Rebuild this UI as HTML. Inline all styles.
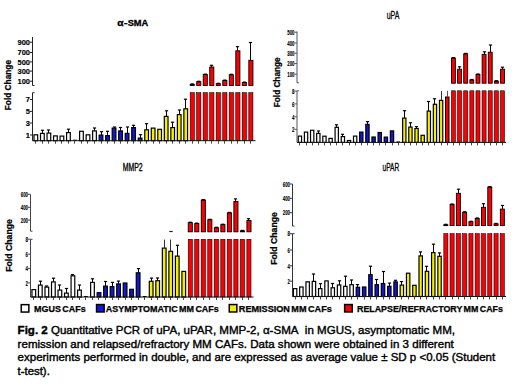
<!DOCTYPE html>
<html><head><meta charset="utf-8"><title>Fig. 2</title>
<style>
html,body{margin:0;padding:0;background:#fff;}
body{width:520px;height:390px;overflow:hidden;}
svg{display:block;font-family:"Liberation Sans", sans-serif;}
</style></head>
<body>
<svg width="520" height="390" viewBox="0 0 520 390" shape-rendering="auto">
<rect x="0" y="0" width="520" height="390" fill="#fff"/>
<rect x="190.18" y="92.7" width="62.74" height="48" fill="#d4dae2"/>
<rect x="34" y="134.8" width="3.7" height="5.9" fill="#ffffff" stroke="#000" stroke-width="1.2"/>
<rect x="40.52" y="133.4" width="3.7" height="7.3" fill="#ffffff" stroke="#000" stroke-width="1.2"/>
<line x1="42.5" y1="130.3" x2="42.5" y2="133.3" stroke="#000" stroke-width="1"/>
<line x1="40.9" y1="130.3" x2="44.1" y2="130.3" stroke="#000" stroke-width="1.2"/>
<rect x="47.03" y="133.1" width="3.7" height="7.6" fill="#ffffff" stroke="#000" stroke-width="1.2"/>
<line x1="48.5" y1="130" x2="48.5" y2="133" stroke="#000" stroke-width="1"/>
<line x1="46.9" y1="130" x2="50.1" y2="130" stroke="#000" stroke-width="1.2"/>
<rect x="53.55" y="135.9" width="3.7" height="4.8" fill="#ffffff" stroke="#000" stroke-width="1.2"/>
<rect x="60.06" y="136.1" width="3.7" height="4.6" fill="#ffffff" stroke="#000" stroke-width="1.2"/>
<rect x="66.58" y="132.6" width="3.7" height="8.1" fill="#ffffff" stroke="#000" stroke-width="1.2"/>
<line x1="68.5" y1="129.2" x2="68.5" y2="132.5" stroke="#000" stroke-width="1"/>
<line x1="66.9" y1="129.2" x2="70.1" y2="129.2" stroke="#000" stroke-width="1.2"/>
<line x1="73" y1="140.2" x2="76.9" y2="140.2" stroke="#000" stroke-width="1"/>
<rect x="79.61" y="131.3" width="3.7" height="9.4" fill="#ffffff" stroke="#000" stroke-width="1.2"/>
<rect x="86.13" y="134.8" width="3.7" height="5.9" fill="#ffffff" stroke="#000" stroke-width="1.2"/>
<rect x="92.64" y="130.9" width="3.7" height="9.8" fill="#ffffff" stroke="#000" stroke-width="1.2"/>
<line x1="94.5" y1="128" x2="94.5" y2="130.8" stroke="#000" stroke-width="1"/>
<line x1="92.9" y1="128" x2="96.1" y2="128" stroke="#000" stroke-width="1.2"/>
<rect x="99.16" y="135.1" width="3.7" height="5.6" fill="#1216d8" stroke="#000" stroke-width="1.2"/>
<line x1="101.5" y1="131.7" x2="101.5" y2="135" stroke="#000" stroke-width="1"/>
<line x1="99.9" y1="131.7" x2="103.1" y2="131.7" stroke="#000" stroke-width="1.2"/>
<rect x="105.68" y="135.6" width="3.7" height="5.1" fill="#1216d8" stroke="#000" stroke-width="1.2"/>
<line x1="107.5" y1="131.3" x2="107.5" y2="135.5" stroke="#000" stroke-width="1"/>
<line x1="105.9" y1="131.3" x2="109.1" y2="131.3" stroke="#000" stroke-width="1.2"/>
<rect x="112.19" y="128.1" width="3.7" height="12.6" fill="#1216d8" stroke="#000" stroke-width="1.2"/>
<line x1="114.5" y1="127" x2="114.5" y2="128" stroke="#000" stroke-width="1"/>
<line x1="112.9" y1="127" x2="116.1" y2="127" stroke="#000" stroke-width="1.2"/>
<rect x="118.71" y="130.9" width="3.7" height="9.8" fill="#1216d8" stroke="#000" stroke-width="1.2"/>
<line x1="120.5" y1="127.5" x2="120.5" y2="130.8" stroke="#000" stroke-width="1"/>
<line x1="118.9" y1="127.5" x2="122.1" y2="127.5" stroke="#000" stroke-width="1.2"/>
<rect x="125.22" y="133.4" width="3.7" height="7.3" fill="#1216d8" stroke="#000" stroke-width="1.2"/>
<line x1="127.5" y1="127" x2="127.5" y2="133.3" stroke="#000" stroke-width="1"/>
<line x1="125.9" y1="127" x2="129.1" y2="127" stroke="#000" stroke-width="1.2"/>
<rect x="131.74" y="127.6" width="3.7" height="13.1" fill="#1216d8" stroke="#000" stroke-width="1.2"/>
<line x1="133.5" y1="125.3" x2="133.5" y2="127.5" stroke="#000" stroke-width="1"/>
<line x1="131.9" y1="125.3" x2="135.1" y2="125.3" stroke="#000" stroke-width="1.2"/>
<rect x="138.26" y="138.1" width="3.7" height="2.6" fill="#1216d8" stroke="#000" stroke-width="1.2"/>
<line x1="140.5" y1="134.7" x2="140.5" y2="138" stroke="#000" stroke-width="1"/>
<line x1="138.9" y1="134.7" x2="142.1" y2="134.7" stroke="#000" stroke-width="1.2"/>
<rect x="144.77" y="129.8" width="3.7" height="10.9" fill="#f6f000" stroke="#000" stroke-width="1.2"/>
<line x1="146.5" y1="123.7" x2="146.5" y2="129.7" stroke="#000" stroke-width="1"/>
<line x1="144.9" y1="123.7" x2="148.1" y2="123.7" stroke="#000" stroke-width="1.2"/>
<rect x="151.29" y="128.1" width="3.7" height="12.6" fill="#f6f000" stroke="#000" stroke-width="1.2"/>
<rect x="157.8" y="129.3" width="3.7" height="11.4" fill="#f6f000" stroke="#000" stroke-width="1.2"/>
<rect x="164.32" y="116.4" width="3.7" height="24.3" fill="#f6f000" stroke="#000" stroke-width="1.2"/>
<line x1="166.5" y1="110.8" x2="166.5" y2="116.3" stroke="#000" stroke-width="1"/>
<line x1="164.9" y1="110.8" x2="168.1" y2="110.8" stroke="#000" stroke-width="1.2"/>
<rect x="170.84" y="127.6" width="3.7" height="13.1" fill="#f6f000" stroke="#000" stroke-width="1.2"/>
<line x1="172.5" y1="122.2" x2="172.5" y2="127.5" stroke="#000" stroke-width="1"/>
<line x1="170.9" y1="122.2" x2="174.1" y2="122.2" stroke="#000" stroke-width="1.2"/>
<rect x="177.35" y="114.6" width="3.7" height="26.1" fill="#f6f000" stroke="#000" stroke-width="1.2"/>
<line x1="179.5" y1="110" x2="179.5" y2="114.5" stroke="#000" stroke-width="1"/>
<line x1="177.9" y1="110" x2="181.1" y2="110" stroke="#000" stroke-width="1.2"/>
<rect x="183.87" y="108.8" width="3.7" height="31.9" fill="#f6f000" stroke="#000" stroke-width="1.2"/>
<line x1="185.5" y1="99.2" x2="185.5" y2="108.7" stroke="#000" stroke-width="1"/>
<line x1="183.9" y1="99.2" x2="187.1" y2="99.2" stroke="#000" stroke-width="1.2"/>
<rect x="190.18" y="92.7" width="4.1" height="48" fill="#fa0000" stroke="#000" stroke-width="0.55"/>
<rect x="190.18" y="84.3" width="4.1" height="1.2" fill="#fa0000" stroke="#000" stroke-width="0.9"/>
<line x1="190.73" y1="84" x2="193.73" y2="84" stroke="#000" stroke-width="1.4"/>
<rect x="196.7" y="92.7" width="4.1" height="48" fill="#fa0000" stroke="#000" stroke-width="0.55"/>
<rect x="196.7" y="81.7" width="4.1" height="3.8" fill="#fa0000" stroke="#000" stroke-width="0.9"/>
<line x1="197.25" y1="81.4" x2="200.25" y2="81.4" stroke="#000" stroke-width="1.4"/>
<rect x="203.22" y="92.7" width="4.1" height="48" fill="#fa0000" stroke="#000" stroke-width="0.55"/>
<rect x="203.22" y="74.5" width="4.1" height="11" fill="#fa0000" stroke="#000" stroke-width="0.9"/>
<line x1="203.77" y1="74.2" x2="206.77" y2="74.2" stroke="#000" stroke-width="1.4"/>
<rect x="209.73" y="92.7" width="4.1" height="48" fill="#fa0000" stroke="#000" stroke-width="0.55"/>
<rect x="209.73" y="67" width="4.1" height="18.5" fill="#fa0000" stroke="#000" stroke-width="0.9"/>
<line x1="211.5" y1="65.3" x2="211.5" y2="67" stroke="#000" stroke-width="1"/>
<line x1="209.9" y1="65.3" x2="213.1" y2="65.3" stroke="#000" stroke-width="1.2"/>
<rect x="216.25" y="92.7" width="4.1" height="48" fill="#fa0000" stroke="#000" stroke-width="0.55"/>
<rect x="216.25" y="83.7" width="4.1" height="1.8" fill="#fa0000" stroke="#000" stroke-width="0.9"/>
<line x1="216.8" y1="83.4" x2="219.8" y2="83.4" stroke="#000" stroke-width="1.4"/>
<rect x="222.76" y="92.7" width="4.1" height="48" fill="#fa0000" stroke="#000" stroke-width="0.55"/>
<rect x="222.76" y="80.5" width="4.1" height="5" fill="#fa0000" stroke="#000" stroke-width="0.9"/>
<line x1="223.31" y1="80.2" x2="226.31" y2="80.2" stroke="#000" stroke-width="1.4"/>
<rect x="229.28" y="92.7" width="4.1" height="48" fill="#fa0000" stroke="#000" stroke-width="0.55"/>
<rect x="229.28" y="74.7" width="4.1" height="10.8" fill="#fa0000" stroke="#000" stroke-width="0.9"/>
<line x1="229.83" y1="74.4" x2="232.83" y2="74.4" stroke="#000" stroke-width="1.4"/>
<rect x="235.8" y="92.7" width="4.1" height="48" fill="#fa0000" stroke="#000" stroke-width="0.55"/>
<rect x="235.8" y="50.8" width="4.1" height="34.7" fill="#fa0000" stroke="#000" stroke-width="0.9"/>
<line x1="237.5" y1="46.7" x2="237.5" y2="50.8" stroke="#000" stroke-width="1"/>
<line x1="235.9" y1="46.7" x2="239.1" y2="46.7" stroke="#000" stroke-width="1.2"/>
<rect x="242.31" y="92.7" width="4.1" height="48" fill="#fa0000" stroke="#000" stroke-width="0.55"/>
<rect x="242.31" y="82.5" width="4.1" height="3" fill="#fa0000" stroke="#000" stroke-width="0.9"/>
<line x1="242.86" y1="82.2" x2="245.86" y2="82.2" stroke="#000" stroke-width="1.4"/>
<rect x="248.83" y="92.7" width="4.1" height="48" fill="#fa0000" stroke="#000" stroke-width="0.55"/>
<rect x="248.83" y="60.3" width="4.1" height="25.2" fill="#fa0000" stroke="#000" stroke-width="0.9"/>
<line x1="250.5" y1="42.5" x2="250.5" y2="60.3" stroke="#000" stroke-width="1"/>
<line x1="248.9" y1="42.5" x2="252.1" y2="42.5" stroke="#000" stroke-width="1.2"/>
<line x1="32.5" y1="37" x2="32.5" y2="85.5" stroke="#222" stroke-width="1"/>
<line x1="32.5" y1="85.5" x2="34.5" y2="85.5" stroke="#222" stroke-width="1"/>
<line x1="32.5" y1="92.7" x2="32.5" y2="140.7" stroke="#222" stroke-width="1"/>
<line x1="32.5" y1="92.7" x2="34.5" y2="92.7" stroke="#222" stroke-width="1"/>
<line x1="32.5" y1="140.7" x2="255.5" y2="140.7" stroke="#111" stroke-width="1"/>
<line x1="35.5" y1="140.7" x2="35.5" y2="143.7" stroke="#333" stroke-width="0.9"/>
<line x1="42.5" y1="140.7" x2="42.5" y2="143.7" stroke="#333" stroke-width="0.9"/>
<line x1="48.5" y1="140.7" x2="48.5" y2="143.7" stroke="#333" stroke-width="0.9"/>
<line x1="55.5" y1="140.7" x2="55.5" y2="143.7" stroke="#333" stroke-width="0.9"/>
<line x1="61.5" y1="140.7" x2="61.5" y2="143.7" stroke="#333" stroke-width="0.9"/>
<line x1="68.5" y1="140.7" x2="68.5" y2="143.7" stroke="#333" stroke-width="0.9"/>
<line x1="74.5" y1="140.7" x2="74.5" y2="143.7" stroke="#333" stroke-width="0.9"/>
<line x1="81.5" y1="140.7" x2="81.5" y2="143.7" stroke="#333" stroke-width="0.9"/>
<line x1="87.5" y1="140.7" x2="87.5" y2="143.7" stroke="#333" stroke-width="0.9"/>
<line x1="94.5" y1="140.7" x2="94.5" y2="143.7" stroke="#333" stroke-width="0.9"/>
<line x1="101.5" y1="140.7" x2="101.5" y2="143.7" stroke="#333" stroke-width="0.9"/>
<line x1="107.5" y1="140.7" x2="107.5" y2="143.7" stroke="#333" stroke-width="0.9"/>
<line x1="114.5" y1="140.7" x2="114.5" y2="143.7" stroke="#333" stroke-width="0.9"/>
<line x1="120.5" y1="140.7" x2="120.5" y2="143.7" stroke="#333" stroke-width="0.9"/>
<line x1="127.5" y1="140.7" x2="127.5" y2="143.7" stroke="#333" stroke-width="0.9"/>
<line x1="133.5" y1="140.7" x2="133.5" y2="143.7" stroke="#333" stroke-width="0.9"/>
<line x1="140.5" y1="140.7" x2="140.5" y2="143.7" stroke="#333" stroke-width="0.9"/>
<line x1="146.5" y1="140.7" x2="146.5" y2="143.7" stroke="#333" stroke-width="0.9"/>
<line x1="153.5" y1="140.7" x2="153.5" y2="143.7" stroke="#333" stroke-width="0.9"/>
<line x1="159.5" y1="140.7" x2="159.5" y2="143.7" stroke="#333" stroke-width="0.9"/>
<line x1="166.5" y1="140.7" x2="166.5" y2="143.7" stroke="#333" stroke-width="0.9"/>
<line x1="172.5" y1="140.7" x2="172.5" y2="143.7" stroke="#333" stroke-width="0.9"/>
<line x1="179.5" y1="140.7" x2="179.5" y2="143.7" stroke="#333" stroke-width="0.9"/>
<line x1="185.5" y1="140.7" x2="185.5" y2="143.7" stroke="#333" stroke-width="0.9"/>
<line x1="192.5" y1="140.7" x2="192.5" y2="143.7" stroke="#333" stroke-width="0.9"/>
<line x1="198.5" y1="140.7" x2="198.5" y2="143.7" stroke="#333" stroke-width="0.9"/>
<line x1="205.5" y1="140.7" x2="205.5" y2="143.7" stroke="#333" stroke-width="0.9"/>
<line x1="211.5" y1="140.7" x2="211.5" y2="143.7" stroke="#333" stroke-width="0.9"/>
<line x1="218.5" y1="140.7" x2="218.5" y2="143.7" stroke="#333" stroke-width="0.9"/>
<line x1="224.5" y1="140.7" x2="224.5" y2="143.7" stroke="#333" stroke-width="0.9"/>
<line x1="231.5" y1="140.7" x2="231.5" y2="143.7" stroke="#333" stroke-width="0.9"/>
<line x1="237.5" y1="140.7" x2="237.5" y2="143.7" stroke="#333" stroke-width="0.9"/>
<line x1="244.5" y1="140.7" x2="244.5" y2="143.7" stroke="#333" stroke-width="0.9"/>
<line x1="250.5" y1="140.7" x2="250.5" y2="143.7" stroke="#333" stroke-width="0.9"/>
<line x1="30" y1="42.2" x2="32.5" y2="42.2" stroke="#222" stroke-width="1"/>
<text x="30" y="44.9" font-size="7.5" font-weight="bold" text-anchor="end" fill="#000" stroke="#000" stroke-width="0.15">900</text>
<line x1="30" y1="52.5" x2="32.5" y2="52.5" stroke="#222" stroke-width="1"/>
<text x="30" y="55.2" font-size="7.5" font-weight="bold" text-anchor="end" fill="#000" stroke="#000" stroke-width="0.15">700</text>
<line x1="30" y1="61.9" x2="32.5" y2="61.9" stroke="#222" stroke-width="1"/>
<text x="30" y="64.6" font-size="7.5" font-weight="bold" text-anchor="end" fill="#000" stroke="#000" stroke-width="0.15">500</text>
<line x1="30" y1="71.1" x2="32.5" y2="71.1" stroke="#222" stroke-width="1"/>
<text x="30" y="73.8" font-size="7.5" font-weight="bold" text-anchor="end" fill="#000" stroke="#000" stroke-width="0.15">300</text>
<line x1="30" y1="81.2" x2="32.5" y2="81.2" stroke="#222" stroke-width="1"/>
<text x="30" y="83.9" font-size="7.5" font-weight="bold" text-anchor="end" fill="#000" stroke="#000" stroke-width="0.15">100</text>
<line x1="30" y1="99.5" x2="32.5" y2="99.5" stroke="#222" stroke-width="1"/>
<text x="30" y="102.2" font-size="7.5" font-weight="bold" text-anchor="end" fill="#000" stroke="#000" stroke-width="0.15">7</text>
<line x1="30" y1="111.4" x2="32.5" y2="111.4" stroke="#222" stroke-width="1"/>
<text x="30" y="114.1" font-size="7.5" font-weight="bold" text-anchor="end" fill="#000" stroke="#000" stroke-width="0.15">5</text>
<line x1="30" y1="123" x2="32.5" y2="123" stroke="#222" stroke-width="1"/>
<text x="30" y="125.7" font-size="7.5" font-weight="bold" text-anchor="end" fill="#000" stroke="#000" stroke-width="0.15">3</text>
<line x1="30" y1="135" x2="32.5" y2="135" stroke="#222" stroke-width="1"/>
<text x="30" y="137.7" font-size="7.5" font-weight="bold" text-anchor="end" fill="#000" stroke="#000" stroke-width="0.15">1</text>
<text x="117.3" y="26.2" font-size="8.5" font-weight="bold" text-anchor="start" fill="#000" textLength="6.3" lengthAdjust="spacingAndGlyphs" stroke="#000" stroke-width="0.3">&#945;</text>
<text x="124" y="26.2" font-size="8.5" font-weight="bold" text-anchor="start" fill="#000" textLength="3.6" lengthAdjust="spacingAndGlyphs" stroke="#000" stroke-width="0.3">-</text>
<text x="127.7" y="26.2" font-size="8.5" font-weight="bold" text-anchor="start" fill="#000" textLength="20.6" lengthAdjust="spacingAndGlyphs" stroke="#000" stroke-width="0.3">SMA</text>
<text x="0" y="0" font-size="8.5" font-weight="bold" text-anchor="start" stroke="#000" stroke-width="0.25" textLength="50.2" lengthAdjust="spacingAndGlyphs" transform="translate(11.3,110.2) rotate(-90)">Fold Change</text>
<rect x="451.45" y="90.8" width="53.02" height="51.6" fill="#d4dae2"/>
<rect x="298.25" y="136.1" width="3.3" height="6.3" fill="#ffffff" stroke="#000" stroke-width="1.2"/>
<rect x="304.39" y="132.1" width="3.3" height="10.3" fill="#ffffff" stroke="#000" stroke-width="1.2"/>
<rect x="310.53" y="130.3" width="3.3" height="12.1" fill="#ffffff" stroke="#000" stroke-width="1.2"/>
<rect x="316.67" y="133.4" width="3.3" height="9" fill="#ffffff" stroke="#000" stroke-width="1.2"/>
<line x1="318.5" y1="131" x2="318.5" y2="133.3" stroke="#000" stroke-width="1"/>
<line x1="316.9" y1="131" x2="320.1" y2="131" stroke="#000" stroke-width="1.2"/>
<rect x="322.81" y="136.2" width="3.3" height="6.2" fill="#ffffff" stroke="#000" stroke-width="1.2"/>
<rect x="328.95" y="138.4" width="3.3" height="4" fill="#ffffff" stroke="#000" stroke-width="1.2"/>
<rect x="335.09" y="127.3" width="3.3" height="15.1" fill="#ffffff" stroke="#000" stroke-width="1.2"/>
<line x1="336.5" y1="124.8" x2="336.5" y2="127.2" stroke="#000" stroke-width="1"/>
<line x1="334.9" y1="124.8" x2="338.1" y2="124.8" stroke="#000" stroke-width="1.2"/>
<rect x="341.23" y="136.6" width="3.3" height="5.8" fill="#ffffff" stroke="#000" stroke-width="1.2"/>
<line x1="342.5" y1="134.3" x2="342.5" y2="136.5" stroke="#000" stroke-width="1"/>
<line x1="340.9" y1="134.3" x2="344.1" y2="134.3" stroke="#000" stroke-width="1.2"/>
<rect x="347.37" y="140.5" width="3.3" height="1.9" fill="#ffffff" stroke="#000" stroke-width="1.2"/>
<rect x="353.51" y="136.1" width="3.3" height="6.3" fill="#ffffff" stroke="#000" stroke-width="1.2"/>
<rect x="359.65" y="132.1" width="3.3" height="10.3" fill="#1216d8" stroke="#000" stroke-width="1.2"/>
<rect x="365.79" y="124.4" width="3.3" height="18" fill="#1216d8" stroke="#000" stroke-width="1.2"/>
<line x1="367.5" y1="121.6" x2="367.5" y2="124.3" stroke="#000" stroke-width="1"/>
<line x1="365.9" y1="121.6" x2="369.1" y2="121.6" stroke="#000" stroke-width="1.2"/>
<rect x="371.93" y="137" width="3.3" height="5.4" fill="#1216d8" stroke="#000" stroke-width="1.2"/>
<rect x="378.07" y="132.5" width="3.3" height="9.9" fill="#1216d8" stroke="#000" stroke-width="1.2"/>
<rect x="384.21" y="137.1" width="3.3" height="5.3" fill="#1216d8" stroke="#000" stroke-width="1.2"/>
<rect x="390.35" y="130.9" width="3.3" height="11.5" fill="#1216d8" stroke="#000" stroke-width="1.2"/>
<line x1="396.39" y1="141.9" x2="399.89" y2="141.9" stroke="#000" stroke-width="1"/>
<rect x="402.63" y="118.1" width="3.3" height="24.3" fill="#f6f000" stroke="#000" stroke-width="1.2"/>
<line x1="404.5" y1="110.7" x2="404.5" y2="118" stroke="#000" stroke-width="1"/>
<line x1="402.9" y1="110.7" x2="406.1" y2="110.7" stroke="#000" stroke-width="1.2"/>
<rect x="408.77" y="127.1" width="3.3" height="15.3" fill="#f6f000" stroke="#000" stroke-width="1.2"/>
<line x1="410.5" y1="122.8" x2="410.5" y2="127" stroke="#000" stroke-width="1"/>
<line x1="408.9" y1="122.8" x2="412.1" y2="122.8" stroke="#000" stroke-width="1.2"/>
<rect x="414.91" y="128.5" width="3.3" height="13.9" fill="#f6f000" stroke="#000" stroke-width="1.2"/>
<line x1="416.5" y1="126.6" x2="416.5" y2="128.4" stroke="#000" stroke-width="1"/>
<line x1="414.9" y1="126.6" x2="418.1" y2="126.6" stroke="#000" stroke-width="1.2"/>
<rect x="421.05" y="135.3" width="3.3" height="7.1" fill="#f6f000" stroke="#000" stroke-width="1.2"/>
<rect x="427.19" y="111.1" width="3.3" height="31.3" fill="#f6f000" stroke="#000" stroke-width="1.2"/>
<line x1="428.5" y1="101.5" x2="428.5" y2="111" stroke="#000" stroke-width="1"/>
<line x1="426.9" y1="101.5" x2="430.1" y2="101.5" stroke="#000" stroke-width="1.2"/>
<rect x="433.33" y="104.3" width="3.3" height="38.1" fill="#f6f000" stroke="#000" stroke-width="1.2"/>
<line x1="434.5" y1="98.8" x2="434.5" y2="104.2" stroke="#000" stroke-width="1"/>
<line x1="432.9" y1="98.8" x2="436.1" y2="98.8" stroke="#000" stroke-width="1.2"/>
<rect x="439.47" y="100.4" width="3.3" height="42" fill="#f6f000" stroke="#000" stroke-width="1.2"/>
<line x1="441.5" y1="91" x2="441.5" y2="100.3" stroke="#333" stroke-width="1"/>
<rect x="445.51" y="97" width="3.5" height="45.4" fill="#fa0000" stroke="#000" stroke-width="1"/>
<line x1="447.5" y1="90.8" x2="447.5" y2="97" stroke="#555" stroke-width="1"/>
<rect x="451.45" y="90.8" width="3.9" height="51.6" fill="#fa0000" stroke="#000" stroke-width="0.55"/>
<rect x="451.45" y="58" width="3.9" height="25.2" fill="#fa0000" stroke="#000" stroke-width="0.9"/>
<line x1="451.9" y1="57.7" x2="454.9" y2="57.7" stroke="#000" stroke-width="1.4"/>
<rect x="457.59" y="90.8" width="3.9" height="51.6" fill="#fa0000" stroke="#000" stroke-width="0.55"/>
<rect x="457.59" y="69.2" width="3.9" height="14" fill="#fa0000" stroke="#000" stroke-width="0.9"/>
<line x1="459.5" y1="66.8" x2="459.5" y2="69.2" stroke="#000" stroke-width="1"/>
<line x1="457.9" y1="66.8" x2="461.1" y2="66.8" stroke="#000" stroke-width="1.2"/>
<rect x="463.73" y="90.8" width="3.9" height="51.6" fill="#fa0000" stroke="#000" stroke-width="0.55"/>
<rect x="463.73" y="53.8" width="3.9" height="29.4" fill="#fa0000" stroke="#000" stroke-width="0.9"/>
<line x1="464.18" y1="53.5" x2="467.18" y2="53.5" stroke="#000" stroke-width="1.4"/>
<rect x="469.87" y="90.8" width="3.9" height="51.6" fill="#fa0000" stroke="#000" stroke-width="0.55"/>
<rect x="469.87" y="79.9" width="3.9" height="3.3" fill="#fa0000" stroke="#000" stroke-width="0.9"/>
<line x1="470.32" y1="79.6" x2="473.32" y2="79.6" stroke="#000" stroke-width="1.4"/>
<rect x="476.01" y="90.8" width="3.9" height="51.6" fill="#fa0000" stroke="#000" stroke-width="0.55"/>
<rect x="476.01" y="74.4" width="3.9" height="8.8" fill="#fa0000" stroke="#000" stroke-width="0.9"/>
<line x1="476.46" y1="74.1" x2="479.46" y2="74.1" stroke="#000" stroke-width="1.4"/>
<rect x="482.15" y="90.8" width="3.9" height="51.6" fill="#fa0000" stroke="#000" stroke-width="0.55"/>
<rect x="482.15" y="54.3" width="3.9" height="28.9" fill="#fa0000" stroke="#000" stroke-width="0.9"/>
<line x1="484.5" y1="51.8" x2="484.5" y2="54.3" stroke="#000" stroke-width="1"/>
<line x1="482.9" y1="51.8" x2="486.1" y2="51.8" stroke="#000" stroke-width="1.2"/>
<rect x="488.29" y="90.8" width="3.9" height="51.6" fill="#fa0000" stroke="#000" stroke-width="0.55"/>
<rect x="488.29" y="52.2" width="3.9" height="31" fill="#fa0000" stroke="#000" stroke-width="0.9"/>
<line x1="490.5" y1="45" x2="490.5" y2="52.2" stroke="#000" stroke-width="1"/>
<line x1="488.9" y1="45" x2="492.1" y2="45" stroke="#000" stroke-width="1.2"/>
<rect x="494.43" y="90.8" width="3.9" height="51.6" fill="#fa0000" stroke="#000" stroke-width="0.55"/>
<rect x="494.43" y="81.1" width="3.9" height="2.1" fill="#fa0000" stroke="#000" stroke-width="0.9"/>
<line x1="494.88" y1="80.8" x2="497.88" y2="80.8" stroke="#000" stroke-width="1.4"/>
<rect x="500.57" y="90.8" width="3.9" height="51.6" fill="#fa0000" stroke="#000" stroke-width="0.55"/>
<rect x="500.57" y="69.2" width="3.9" height="14" fill="#fa0000" stroke="#000" stroke-width="0.9"/>
<line x1="502.5" y1="67.2" x2="502.5" y2="69.2" stroke="#000" stroke-width="1"/>
<line x1="500.9" y1="67.2" x2="504.1" y2="67.2" stroke="#000" stroke-width="1.2"/>
<line x1="297" y1="31.5" x2="297" y2="82.8" stroke="#555" stroke-width="1"/>
<line x1="297" y1="82.8" x2="299" y2="82.8" stroke="#555" stroke-width="1"/>
<line x1="297" y1="90.8" x2="297" y2="142.4" stroke="#555" stroke-width="1"/>
<line x1="297" y1="90.8" x2="299" y2="90.8" stroke="#555" stroke-width="1"/>
<line x1="297" y1="142.4" x2="506" y2="142.4" stroke="#111" stroke-width="1"/>
<line x1="299.5" y1="142.4" x2="299.5" y2="145.4" stroke="#333" stroke-width="0.9"/>
<line x1="306.5" y1="142.4" x2="306.5" y2="145.4" stroke="#333" stroke-width="0.9"/>
<line x1="312.5" y1="142.4" x2="312.5" y2="145.4" stroke="#333" stroke-width="0.9"/>
<line x1="318.5" y1="142.4" x2="318.5" y2="145.4" stroke="#333" stroke-width="0.9"/>
<line x1="324.5" y1="142.4" x2="324.5" y2="145.4" stroke="#333" stroke-width="0.9"/>
<line x1="330.5" y1="142.4" x2="330.5" y2="145.4" stroke="#333" stroke-width="0.9"/>
<line x1="336.5" y1="142.4" x2="336.5" y2="145.4" stroke="#333" stroke-width="0.9"/>
<line x1="342.5" y1="142.4" x2="342.5" y2="145.4" stroke="#333" stroke-width="0.9"/>
<line x1="349.5" y1="142.4" x2="349.5" y2="145.4" stroke="#333" stroke-width="0.9"/>
<line x1="355.5" y1="142.4" x2="355.5" y2="145.4" stroke="#333" stroke-width="0.9"/>
<line x1="361.5" y1="142.4" x2="361.5" y2="145.4" stroke="#333" stroke-width="0.9"/>
<line x1="367.5" y1="142.4" x2="367.5" y2="145.4" stroke="#333" stroke-width="0.9"/>
<line x1="373.5" y1="142.4" x2="373.5" y2="145.4" stroke="#333" stroke-width="0.9"/>
<line x1="379.5" y1="142.4" x2="379.5" y2="145.4" stroke="#333" stroke-width="0.9"/>
<line x1="385.5" y1="142.4" x2="385.5" y2="145.4" stroke="#333" stroke-width="0.9"/>
<line x1="392.5" y1="142.4" x2="392.5" y2="145.4" stroke="#333" stroke-width="0.9"/>
<line x1="398.5" y1="142.4" x2="398.5" y2="145.4" stroke="#333" stroke-width="0.9"/>
<line x1="404.5" y1="142.4" x2="404.5" y2="145.4" stroke="#333" stroke-width="0.9"/>
<line x1="410.5" y1="142.4" x2="410.5" y2="145.4" stroke="#333" stroke-width="0.9"/>
<line x1="416.5" y1="142.4" x2="416.5" y2="145.4" stroke="#333" stroke-width="0.9"/>
<line x1="422.5" y1="142.4" x2="422.5" y2="145.4" stroke="#333" stroke-width="0.9"/>
<line x1="428.5" y1="142.4" x2="428.5" y2="145.4" stroke="#333" stroke-width="0.9"/>
<line x1="434.5" y1="142.4" x2="434.5" y2="145.4" stroke="#333" stroke-width="0.9"/>
<line x1="441.5" y1="142.4" x2="441.5" y2="145.4" stroke="#333" stroke-width="0.9"/>
<line x1="447.5" y1="142.4" x2="447.5" y2="145.4" stroke="#333" stroke-width="0.9"/>
<line x1="453.5" y1="142.4" x2="453.5" y2="145.4" stroke="#333" stroke-width="0.9"/>
<line x1="459.5" y1="142.4" x2="459.5" y2="145.4" stroke="#333" stroke-width="0.9"/>
<line x1="465.5" y1="142.4" x2="465.5" y2="145.4" stroke="#333" stroke-width="0.9"/>
<line x1="471.5" y1="142.4" x2="471.5" y2="145.4" stroke="#333" stroke-width="0.9"/>
<line x1="477.5" y1="142.4" x2="477.5" y2="145.4" stroke="#333" stroke-width="0.9"/>
<line x1="484.5" y1="142.4" x2="484.5" y2="145.4" stroke="#333" stroke-width="0.9"/>
<line x1="490.5" y1="142.4" x2="490.5" y2="145.4" stroke="#333" stroke-width="0.9"/>
<line x1="496.5" y1="142.4" x2="496.5" y2="145.4" stroke="#333" stroke-width="0.9"/>
<line x1="502.5" y1="142.4" x2="502.5" y2="145.4" stroke="#333" stroke-width="0.9"/>
<line x1="294.5" y1="32.2" x2="297" y2="32.2" stroke="#555" stroke-width="1"/>
<text x="294.5" y="35" font-size="7.8" font-weight="bold" text-anchor="end" fill="#000" stroke="#000" stroke-width="0.15" transform="translate(294.5,0) scale(0.56,1) translate(-294.5,0)">500</text>
<line x1="294.5" y1="43" x2="297" y2="43" stroke="#555" stroke-width="1"/>
<text x="294.5" y="45.8" font-size="7.8" font-weight="bold" text-anchor="end" fill="#000" stroke="#000" stroke-width="0.15" transform="translate(294.5,0) scale(0.56,1) translate(-294.5,0)">400</text>
<line x1="294.5" y1="53.2" x2="297" y2="53.2" stroke="#555" stroke-width="1"/>
<text x="294.5" y="56" font-size="7.8" font-weight="bold" text-anchor="end" fill="#000" stroke="#000" stroke-width="0.15" transform="translate(294.5,0) scale(0.56,1) translate(-294.5,0)">300</text>
<line x1="294.5" y1="63.6" x2="297" y2="63.6" stroke="#555" stroke-width="1"/>
<text x="294.5" y="66.4" font-size="7.8" font-weight="bold" text-anchor="end" fill="#000" stroke="#000" stroke-width="0.15" transform="translate(294.5,0) scale(0.56,1) translate(-294.5,0)">200</text>
<line x1="294.5" y1="74.2" x2="297" y2="74.2" stroke="#555" stroke-width="1"/>
<text x="294.5" y="77" font-size="7.8" font-weight="bold" text-anchor="end" fill="#000" stroke="#000" stroke-width="0.15" transform="translate(294.5,0) scale(0.56,1) translate(-294.5,0)">100</text>
<line x1="294.5" y1="91.2" x2="297" y2="91.2" stroke="#555" stroke-width="1"/>
<text x="294.5" y="94" font-size="7.8" font-weight="bold" text-anchor="end" fill="#000" stroke="#000" stroke-width="0.15" transform="translate(294.5,0) scale(0.56,1) translate(-294.5,0)">8</text>
<line x1="294.5" y1="103.9" x2="297" y2="103.9" stroke="#555" stroke-width="1"/>
<text x="294.5" y="106.7" font-size="7.8" font-weight="bold" text-anchor="end" fill="#000" stroke="#000" stroke-width="0.15" transform="translate(294.5,0) scale(0.56,1) translate(-294.5,0)">6</text>
<line x1="294.5" y1="116.8" x2="297" y2="116.8" stroke="#555" stroke-width="1"/>
<text x="294.5" y="119.6" font-size="7.8" font-weight="bold" text-anchor="end" fill="#000" stroke="#000" stroke-width="0.15" transform="translate(294.5,0) scale(0.56,1) translate(-294.5,0)">4</text>
<line x1="294.5" y1="129.3" x2="297" y2="129.3" stroke="#555" stroke-width="1"/>
<text x="294.5" y="132.1" font-size="7.8" font-weight="bold" text-anchor="end" fill="#000" stroke="#000" stroke-width="0.15" transform="translate(294.5,0) scale(0.56,1) translate(-294.5,0)">2</text>
<text x="386.7" y="19" font-size="10.3" font-weight="normal" text-anchor="start" fill="#000" textLength="12.7" lengthAdjust="spacingAndGlyphs" stroke="#000" stroke-width="0.3">uPA</text>
<text x="0" y="0" font-size="8.5" font-weight="bold" text-anchor="start" stroke="#000" stroke-width="0.25" textLength="49.8" lengthAdjust="spacingAndGlyphs" transform="translate(279.8,107.2) rotate(-90)">Fold Change</text>
<rect x="188.23" y="239.3" width="62.78" height="57.7" fill="#d4dae2"/>
<rect x="31.95" y="289.6" width="3.7" height="7.4" fill="#ffffff" stroke="#000" stroke-width="1.2"/>
<rect x="38.47" y="285.1" width="3.7" height="11.9" fill="#ffffff" stroke="#000" stroke-width="1.2"/>
<line x1="40.5" y1="281.2" x2="40.5" y2="285" stroke="#000" stroke-width="1"/>
<line x1="38.9" y1="281.2" x2="42.1" y2="281.2" stroke="#000" stroke-width="1.2"/>
<rect x="44.99" y="287.1" width="3.7" height="9.9" fill="#ffffff" stroke="#000" stroke-width="1.2"/>
<line x1="46.5" y1="286" x2="46.5" y2="287" stroke="#000" stroke-width="1"/>
<line x1="44.9" y1="286" x2="48.1" y2="286" stroke="#000" stroke-width="1.2"/>
<rect x="51.51" y="281.9" width="3.7" height="15.1" fill="#ffffff" stroke="#000" stroke-width="1.2"/>
<line x1="53.5" y1="278.2" x2="53.5" y2="281.8" stroke="#000" stroke-width="1"/>
<line x1="51.9" y1="278.2" x2="55.1" y2="278.2" stroke="#000" stroke-width="1.2"/>
<rect x="58.03" y="290.1" width="3.7" height="6.9" fill="#ffffff" stroke="#000" stroke-width="1.2"/>
<line x1="59.5" y1="285" x2="59.5" y2="290" stroke="#000" stroke-width="1"/>
<line x1="57.9" y1="285" x2="61.1" y2="285" stroke="#000" stroke-width="1.2"/>
<rect x="64.55" y="293.1" width="3.7" height="3.9" fill="#ffffff" stroke="#000" stroke-width="1.2"/>
<line x1="66.5" y1="288.5" x2="66.5" y2="293" stroke="#000" stroke-width="1"/>
<line x1="64.9" y1="288.5" x2="68.1" y2="288.5" stroke="#000" stroke-width="1.2"/>
<rect x="71.07" y="275.8" width="3.7" height="21.2" fill="#ffffff" stroke="#000" stroke-width="1.2"/>
<line x1="72.5" y1="274.6" x2="72.5" y2="275.7" stroke="#000" stroke-width="1"/>
<line x1="70.9" y1="274.6" x2="74.1" y2="274.6" stroke="#000" stroke-width="1.2"/>
<rect x="77.59" y="290.1" width="3.7" height="6.9" fill="#ffffff" stroke="#000" stroke-width="1.2"/>
<line x1="79.5" y1="285" x2="79.5" y2="290" stroke="#000" stroke-width="1"/>
<line x1="77.9" y1="285" x2="81.1" y2="285" stroke="#000" stroke-width="1.2"/>
<line x1="84.01" y1="296.5" x2="87.91" y2="296.5" stroke="#000" stroke-width="1"/>
<rect x="90.63" y="282.4" width="3.7" height="14.6" fill="#ffffff" stroke="#000" stroke-width="1.2"/>
<line x1="92.5" y1="278.8" x2="92.5" y2="282.3" stroke="#000" stroke-width="1"/>
<line x1="90.9" y1="278.8" x2="94.1" y2="278.8" stroke="#000" stroke-width="1.2"/>
<rect x="97.15" y="292.7" width="3.7" height="4.3" fill="#1216d8" stroke="#000" stroke-width="1.2"/>
<rect x="103.67" y="286.1" width="3.7" height="10.9" fill="#1216d8" stroke="#000" stroke-width="1.2"/>
<line x1="105.5" y1="281.5" x2="105.5" y2="286" stroke="#000" stroke-width="1"/>
<line x1="103.9" y1="281.5" x2="107.1" y2="281.5" stroke="#000" stroke-width="1.2"/>
<rect x="110.19" y="286.6" width="3.7" height="10.4" fill="#1216d8" stroke="#000" stroke-width="1.2"/>
<line x1="112.5" y1="282.4" x2="112.5" y2="286.5" stroke="#000" stroke-width="1"/>
<line x1="110.9" y1="282.4" x2="114.1" y2="282.4" stroke="#000" stroke-width="1.2"/>
<rect x="116.71" y="283.9" width="3.7" height="13.1" fill="#1216d8" stroke="#000" stroke-width="1.2"/>
<line x1="118.5" y1="281.1" x2="118.5" y2="283.8" stroke="#000" stroke-width="1"/>
<line x1="116.9" y1="281.1" x2="120.1" y2="281.1" stroke="#000" stroke-width="1.2"/>
<rect x="123.23" y="283" width="3.7" height="14" fill="#1216d8" stroke="#000" stroke-width="1.2"/>
<rect x="129.75" y="289.3" width="3.7" height="7.7" fill="#1216d8" stroke="#000" stroke-width="1.2"/>
<rect x="136.27" y="272.8" width="3.7" height="24.2" fill="#1216d8" stroke="#000" stroke-width="1.2"/>
<line x1="138.5" y1="268.6" x2="138.5" y2="272.7" stroke="#000" stroke-width="1"/>
<line x1="136.9" y1="268.6" x2="140.1" y2="268.6" stroke="#000" stroke-width="1.2"/>
<line x1="142.69" y1="296.5" x2="146.59" y2="296.5" stroke="#000" stroke-width="1"/>
<rect x="149.31" y="281.3" width="3.7" height="15.7" fill="#f6f000" stroke="#000" stroke-width="1.2"/>
<line x1="151.5" y1="278.1" x2="151.5" y2="281.2" stroke="#000" stroke-width="1"/>
<line x1="149.9" y1="278.1" x2="153.1" y2="278.1" stroke="#000" stroke-width="1.2"/>
<rect x="155.83" y="280.7" width="3.7" height="16.3" fill="#f6f000" stroke="#000" stroke-width="1.2"/>
<line x1="157.5" y1="278" x2="157.5" y2="280.6" stroke="#000" stroke-width="1"/>
<line x1="155.9" y1="278" x2="159.1" y2="278" stroke="#000" stroke-width="1.2"/>
<rect x="162.35" y="248.1" width="3.7" height="48.9" fill="#f6f000" stroke="#000" stroke-width="1.2"/>
<line x1="164.5" y1="239.6" x2="164.5" y2="248" stroke="#333" stroke-width="1"/>
<rect x="168.87" y="251.3" width="3.7" height="45.7" fill="#f6f000" stroke="#000" stroke-width="1.2"/>
<line x1="170.5" y1="239.6" x2="170.5" y2="251.2" stroke="#333" stroke-width="1"/>
<rect x="175.39" y="256.1" width="3.7" height="40.9" fill="#f6f000" stroke="#000" stroke-width="1.2"/>
<line x1="177.5" y1="245.3" x2="177.5" y2="256" stroke="#000" stroke-width="1"/>
<line x1="175.9" y1="245.3" x2="179.1" y2="245.3" stroke="#000" stroke-width="1.2"/>
<rect x="181.91" y="271.4" width="3.7" height="25.6" fill="#f6f000" stroke="#000" stroke-width="1.2"/>
<rect x="188.23" y="239.3" width="4.1" height="57.7" fill="#fa0000" stroke="#000" stroke-width="0.55"/>
<rect x="188.23" y="222.6" width="4.1" height="9.2" fill="#fa0000" stroke="#000" stroke-width="0.9"/>
<line x1="188.78" y1="222.3" x2="191.78" y2="222.3" stroke="#000" stroke-width="1.4"/>
<rect x="194.75" y="239.3" width="4.1" height="57.7" fill="#fa0000" stroke="#000" stroke-width="0.55"/>
<rect x="194.75" y="223.5" width="4.1" height="8.3" fill="#fa0000" stroke="#000" stroke-width="0.9"/>
<line x1="195.3" y1="223.2" x2="198.3" y2="223.2" stroke="#000" stroke-width="1.4"/>
<rect x="201.27" y="239.3" width="4.1" height="57.7" fill="#fa0000" stroke="#000" stroke-width="0.55"/>
<rect x="201.27" y="200" width="4.1" height="31.8" fill="#fa0000" stroke="#000" stroke-width="0.9"/>
<line x1="201.82" y1="199.7" x2="204.82" y2="199.7" stroke="#000" stroke-width="1.4"/>
<rect x="207.79" y="239.3" width="4.1" height="57.7" fill="#fa0000" stroke="#000" stroke-width="0.55"/>
<rect x="207.79" y="219.7" width="4.1" height="12.1" fill="#fa0000" stroke="#000" stroke-width="0.9"/>
<line x1="208.34" y1="219.4" x2="211.34" y2="219.4" stroke="#000" stroke-width="1.4"/>
<rect x="214.31" y="239.3" width="4.1" height="57.7" fill="#fa0000" stroke="#000" stroke-width="0.55"/>
<rect x="214.31" y="227.7" width="4.1" height="4.1" fill="#fa0000" stroke="#000" stroke-width="0.9"/>
<line x1="214.86" y1="227.4" x2="217.86" y2="227.4" stroke="#000" stroke-width="1.4"/>
<rect x="220.83" y="239.3" width="4.1" height="57.7" fill="#fa0000" stroke="#000" stroke-width="0.55"/>
<rect x="220.83" y="224.6" width="4.1" height="7.2" fill="#fa0000" stroke="#000" stroke-width="0.9"/>
<line x1="221.38" y1="224.3" x2="224.38" y2="224.3" stroke="#000" stroke-width="1.4"/>
<rect x="227.35" y="239.3" width="4.1" height="57.7" fill="#fa0000" stroke="#000" stroke-width="0.55"/>
<rect x="227.35" y="212.8" width="4.1" height="19" fill="#fa0000" stroke="#000" stroke-width="0.9"/>
<line x1="227.9" y1="212.5" x2="230.9" y2="212.5" stroke="#000" stroke-width="1.4"/>
<rect x="233.87" y="239.3" width="4.1" height="57.7" fill="#fa0000" stroke="#000" stroke-width="0.55"/>
<rect x="233.87" y="201.5" width="4.1" height="30.3" fill="#fa0000" stroke="#000" stroke-width="0.9"/>
<line x1="235.5" y1="198.9" x2="235.5" y2="201.5" stroke="#000" stroke-width="1"/>
<line x1="233.9" y1="198.9" x2="237.1" y2="198.9" stroke="#000" stroke-width="1.2"/>
<rect x="240.39" y="239.3" width="4.1" height="57.7" fill="#fa0000" stroke="#000" stroke-width="0.55"/>
<rect x="240.39" y="230.8" width="4.1" height="1" fill="#fa0000" stroke="#000" stroke-width="0.9"/>
<line x1="240.94" y1="230.5" x2="243.94" y2="230.5" stroke="#000" stroke-width="1.4"/>
<rect x="246.91" y="239.3" width="4.1" height="57.7" fill="#fa0000" stroke="#000" stroke-width="0.55"/>
<rect x="246.91" y="220.4" width="4.1" height="11.4" fill="#fa0000" stroke="#000" stroke-width="0.9"/>
<line x1="248.5" y1="218.7" x2="248.5" y2="220.4" stroke="#000" stroke-width="1"/>
<line x1="246.9" y1="218.7" x2="250.1" y2="218.7" stroke="#000" stroke-width="1.2"/>
<line x1="30.5" y1="194.5" x2="30.5" y2="231.2" stroke="#444" stroke-width="1"/>
<line x1="30.5" y1="231.2" x2="32.5" y2="231.2" stroke="#444" stroke-width="1"/>
<line x1="30.5" y1="239.3" x2="30.5" y2="297" stroke="#444" stroke-width="1"/>
<line x1="30.5" y1="239.3" x2="32.5" y2="239.3" stroke="#444" stroke-width="1"/>
<line x1="30.5" y1="297" x2="253.5" y2="297" stroke="#111" stroke-width="1"/>
<line x1="33.5" y1="297" x2="33.5" y2="300" stroke="#333" stroke-width="0.9"/>
<line x1="40.5" y1="297" x2="40.5" y2="300" stroke="#333" stroke-width="0.9"/>
<line x1="46.5" y1="297" x2="46.5" y2="300" stroke="#333" stroke-width="0.9"/>
<line x1="53.5" y1="297" x2="53.5" y2="300" stroke="#333" stroke-width="0.9"/>
<line x1="59.5" y1="297" x2="59.5" y2="300" stroke="#333" stroke-width="0.9"/>
<line x1="66.5" y1="297" x2="66.5" y2="300" stroke="#333" stroke-width="0.9"/>
<line x1="72.5" y1="297" x2="72.5" y2="300" stroke="#333" stroke-width="0.9"/>
<line x1="79.5" y1="297" x2="79.5" y2="300" stroke="#333" stroke-width="0.9"/>
<line x1="85.5" y1="297" x2="85.5" y2="300" stroke="#333" stroke-width="0.9"/>
<line x1="92.5" y1="297" x2="92.5" y2="300" stroke="#333" stroke-width="0.9"/>
<line x1="98.5" y1="297" x2="98.5" y2="300" stroke="#333" stroke-width="0.9"/>
<line x1="105.5" y1="297" x2="105.5" y2="300" stroke="#333" stroke-width="0.9"/>
<line x1="112.5" y1="297" x2="112.5" y2="300" stroke="#333" stroke-width="0.9"/>
<line x1="118.5" y1="297" x2="118.5" y2="300" stroke="#333" stroke-width="0.9"/>
<line x1="125.5" y1="297" x2="125.5" y2="300" stroke="#333" stroke-width="0.9"/>
<line x1="131.5" y1="297" x2="131.5" y2="300" stroke="#333" stroke-width="0.9"/>
<line x1="138.5" y1="297" x2="138.5" y2="300" stroke="#333" stroke-width="0.9"/>
<line x1="144.5" y1="297" x2="144.5" y2="300" stroke="#333" stroke-width="0.9"/>
<line x1="151.5" y1="297" x2="151.5" y2="300" stroke="#333" stroke-width="0.9"/>
<line x1="157.5" y1="297" x2="157.5" y2="300" stroke="#333" stroke-width="0.9"/>
<line x1="164.5" y1="297" x2="164.5" y2="300" stroke="#333" stroke-width="0.9"/>
<line x1="170.5" y1="297" x2="170.5" y2="300" stroke="#333" stroke-width="0.9"/>
<line x1="177.5" y1="297" x2="177.5" y2="300" stroke="#333" stroke-width="0.9"/>
<line x1="183.5" y1="297" x2="183.5" y2="300" stroke="#333" stroke-width="0.9"/>
<line x1="190.5" y1="297" x2="190.5" y2="300" stroke="#333" stroke-width="0.9"/>
<line x1="196.5" y1="297" x2="196.5" y2="300" stroke="#333" stroke-width="0.9"/>
<line x1="203.5" y1="297" x2="203.5" y2="300" stroke="#333" stroke-width="0.9"/>
<line x1="209.5" y1="297" x2="209.5" y2="300" stroke="#333" stroke-width="0.9"/>
<line x1="216.5" y1="297" x2="216.5" y2="300" stroke="#333" stroke-width="0.9"/>
<line x1="222.5" y1="297" x2="222.5" y2="300" stroke="#333" stroke-width="0.9"/>
<line x1="229.5" y1="297" x2="229.5" y2="300" stroke="#333" stroke-width="0.9"/>
<line x1="235.5" y1="297" x2="235.5" y2="300" stroke="#333" stroke-width="0.9"/>
<line x1="242.5" y1="297" x2="242.5" y2="300" stroke="#333" stroke-width="0.9"/>
<line x1="248.5" y1="297" x2="248.5" y2="300" stroke="#333" stroke-width="0.9"/>
<line x1="28" y1="194.3" x2="30.5" y2="194.3" stroke="#444" stroke-width="1"/>
<text x="28" y="197.1" font-size="7.8" font-weight="bold" text-anchor="end" fill="#000" stroke="#000" stroke-width="0.15" transform="translate(28,0) scale(0.56,1) translate(-28,0)">600</text>
<line x1="28" y1="207.3" x2="30.5" y2="207.3" stroke="#444" stroke-width="1"/>
<text x="28" y="210.1" font-size="7.8" font-weight="bold" text-anchor="end" fill="#000" stroke="#000" stroke-width="0.15" transform="translate(28,0) scale(0.56,1) translate(-28,0)">400</text>
<line x1="28" y1="220.1" x2="30.5" y2="220.1" stroke="#444" stroke-width="1"/>
<text x="28" y="222.9" font-size="7.8" font-weight="bold" text-anchor="end" fill="#000" stroke="#000" stroke-width="0.15" transform="translate(28,0) scale(0.56,1) translate(-28,0)">200</text>
<line x1="28" y1="239.2" x2="30.5" y2="239.2" stroke="#444" stroke-width="1"/>
<text x="28" y="242" font-size="7.8" font-weight="bold" text-anchor="end" fill="#000" stroke="#000" stroke-width="0.15" transform="translate(28,0) scale(0.56,1) translate(-28,0)">8</text>
<line x1="28" y1="254.2" x2="30.5" y2="254.2" stroke="#444" stroke-width="1"/>
<text x="28" y="257" font-size="7.8" font-weight="bold" text-anchor="end" fill="#000" stroke="#000" stroke-width="0.15" transform="translate(28,0) scale(0.56,1) translate(-28,0)">6</text>
<line x1="28" y1="268.4" x2="30.5" y2="268.4" stroke="#444" stroke-width="1"/>
<text x="28" y="271.2" font-size="7.8" font-weight="bold" text-anchor="end" fill="#000" stroke="#000" stroke-width="0.15" transform="translate(28,0) scale(0.56,1) translate(-28,0)">4</text>
<line x1="28" y1="282.9" x2="30.5" y2="282.9" stroke="#444" stroke-width="1"/>
<text x="28" y="285.7" font-size="7.8" font-weight="bold" text-anchor="end" fill="#000" stroke="#000" stroke-width="0.15" transform="translate(28,0) scale(0.56,1) translate(-28,0)">2</text>
<text x="122.8" y="170.5" font-size="10" font-weight="normal" text-anchor="start" fill="#000" textLength="19.9" lengthAdjust="spacingAndGlyphs" stroke="#000" stroke-width="0.35">MMP2</text>
<text x="0" y="0" font-size="8.5" font-weight="bold" text-anchor="start" stroke="#000" stroke-width="0.25" textLength="52.7" lengthAdjust="spacingAndGlyphs" transform="translate(12.4,271.8) rotate(-90)">Fold Change</text>
<rect x="443.82" y="233.7" width="60.52" height="62.8" fill="#d4dae2"/>
<rect x="293.4" y="288.6" width="3.4" height="7.9" fill="#ffffff" stroke="#000" stroke-width="1.2"/>
<rect x="299.68" y="287" width="3.4" height="9.5" fill="#ffffff" stroke="#000" stroke-width="1.2"/>
<rect x="305.96" y="281.8" width="3.4" height="14.7" fill="#ffffff" stroke="#000" stroke-width="1.2"/>
<rect x="312.24" y="281.4" width="3.4" height="15.1" fill="#ffffff" stroke="#000" stroke-width="1.2"/>
<line x1="313.5" y1="274" x2="313.5" y2="281.3" stroke="#000" stroke-width="1"/>
<line x1="311.9" y1="274" x2="315.1" y2="274" stroke="#000" stroke-width="1.2"/>
<rect x="318.52" y="288.6" width="3.4" height="7.9" fill="#ffffff" stroke="#000" stroke-width="1.2"/>
<line x1="320.5" y1="283.7" x2="320.5" y2="288.5" stroke="#000" stroke-width="1"/>
<line x1="318.9" y1="283.7" x2="322.1" y2="283.7" stroke="#000" stroke-width="1.2"/>
<rect x="324.8" y="280.9" width="3.4" height="15.6" fill="#ffffff" stroke="#000" stroke-width="1.2"/>
<rect x="331.08" y="287.8" width="3.4" height="8.7" fill="#ffffff" stroke="#000" stroke-width="1.2"/>
<line x1="332.5" y1="283.5" x2="332.5" y2="287.7" stroke="#000" stroke-width="1"/>
<line x1="330.9" y1="283.5" x2="334.1" y2="283.5" stroke="#000" stroke-width="1.2"/>
<rect x="337.36" y="285" width="3.4" height="11.5" fill="#ffffff" stroke="#000" stroke-width="1.2"/>
<line x1="339.5" y1="280.8" x2="339.5" y2="284.9" stroke="#000" stroke-width="1"/>
<line x1="337.9" y1="280.8" x2="341.1" y2="280.8" stroke="#000" stroke-width="1.2"/>
<rect x="343.64" y="286.3" width="3.4" height="10.2" fill="#ffffff" stroke="#000" stroke-width="1.2"/>
<line x1="345.5" y1="276.2" x2="345.5" y2="286.2" stroke="#000" stroke-width="1"/>
<line x1="343.9" y1="276.2" x2="347.1" y2="276.2" stroke="#000" stroke-width="1.2"/>
<rect x="349.92" y="284.7" width="3.4" height="11.8" fill="#ffffff" stroke="#000" stroke-width="1.2"/>
<line x1="351.5" y1="280" x2="351.5" y2="284.6" stroke="#000" stroke-width="1"/>
<line x1="349.9" y1="280" x2="353.1" y2="280" stroke="#000" stroke-width="1.2"/>
<rect x="356.2" y="287.3" width="3.4" height="9.2" fill="#1216d8" stroke="#000" stroke-width="1.2"/>
<line x1="357.5" y1="284.6" x2="357.5" y2="287.2" stroke="#000" stroke-width="1"/>
<line x1="355.9" y1="284.6" x2="359.1" y2="284.6" stroke="#000" stroke-width="1.2"/>
<rect x="362.48" y="287" width="3.4" height="9.5" fill="#1216d8" stroke="#000" stroke-width="1.2"/>
<rect x="368.76" y="274.7" width="3.4" height="21.8" fill="#1216d8" stroke="#000" stroke-width="1.2"/>
<line x1="370.5" y1="266.2" x2="370.5" y2="274.6" stroke="#000" stroke-width="1"/>
<line x1="368.9" y1="266.2" x2="372.1" y2="266.2" stroke="#000" stroke-width="1.2"/>
<rect x="375.04" y="284.7" width="3.4" height="11.8" fill="#1216d8" stroke="#000" stroke-width="1.2"/>
<line x1="376.5" y1="279.5" x2="376.5" y2="284.6" stroke="#000" stroke-width="1"/>
<line x1="374.9" y1="279.5" x2="378.1" y2="279.5" stroke="#000" stroke-width="1.2"/>
<rect x="381.32" y="283.5" width="3.4" height="13" fill="#1216d8" stroke="#000" stroke-width="1.2"/>
<line x1="383.5" y1="271.5" x2="383.5" y2="283.4" stroke="#000" stroke-width="1"/>
<line x1="381.9" y1="271.5" x2="385.1" y2="271.5" stroke="#000" stroke-width="1.2"/>
<rect x="387.6" y="286.3" width="3.4" height="10.2" fill="#1216d8" stroke="#000" stroke-width="1.2"/>
<line x1="389.5" y1="283.1" x2="389.5" y2="286.2" stroke="#000" stroke-width="1"/>
<line x1="387.9" y1="283.1" x2="391.1" y2="283.1" stroke="#000" stroke-width="1.2"/>
<rect x="393.88" y="281.9" width="3.4" height="14.6" fill="#1216d8" stroke="#000" stroke-width="1.2"/>
<line x1="395.5" y1="280.3" x2="395.5" y2="281.8" stroke="#000" stroke-width="1"/>
<line x1="393.9" y1="280.3" x2="397.1" y2="280.3" stroke="#000" stroke-width="1.2"/>
<rect x="400.16" y="285.1" width="3.4" height="11.4" fill="#f6f000" stroke="#000" stroke-width="1.2"/>
<line x1="401.5" y1="281.6" x2="401.5" y2="285" stroke="#000" stroke-width="1"/>
<line x1="399.9" y1="281.6" x2="403.1" y2="281.6" stroke="#000" stroke-width="1.2"/>
<rect x="406.44" y="273.2" width="3.4" height="23.3" fill="#f6f000" stroke="#000" stroke-width="1.2"/>
<rect x="412.72" y="285.3" width="3.4" height="11.2" fill="#f6f000" stroke="#000" stroke-width="1.2"/>
<rect x="419" y="255.9" width="3.4" height="40.6" fill="#f6f000" stroke="#000" stroke-width="1.2"/>
<line x1="420.5" y1="251.9" x2="420.5" y2="255.8" stroke="#000" stroke-width="1"/>
<line x1="418.9" y1="251.9" x2="422.1" y2="251.9" stroke="#000" stroke-width="1.2"/>
<rect x="425.28" y="271.3" width="3.4" height="25.2" fill="#f6f000" stroke="#000" stroke-width="1.2"/>
<line x1="426.5" y1="266.3" x2="426.5" y2="271.2" stroke="#000" stroke-width="1"/>
<line x1="424.9" y1="266.3" x2="428.1" y2="266.3" stroke="#000" stroke-width="1.2"/>
<rect x="431.56" y="252.6" width="3.4" height="43.9" fill="#f6f000" stroke="#000" stroke-width="1.2"/>
<line x1="433.5" y1="244.2" x2="433.5" y2="252.5" stroke="#000" stroke-width="1"/>
<line x1="431.9" y1="244.2" x2="435.1" y2="244.2" stroke="#000" stroke-width="1.2"/>
<rect x="437.84" y="256.3" width="3.4" height="40.2" fill="#f6f000" stroke="#000" stroke-width="1.2"/>
<line x1="439.5" y1="252.9" x2="439.5" y2="256.2" stroke="#000" stroke-width="1"/>
<line x1="437.9" y1="252.9" x2="441.1" y2="252.9" stroke="#000" stroke-width="1.2"/>
<rect x="443.82" y="233.7" width="4" height="62.8" fill="#fa0000" stroke="#000" stroke-width="0.55"/>
<rect x="443.82" y="224.7" width="4" height="0.9" fill="#fa0000" stroke="#000" stroke-width="0.9"/>
<line x1="444.32" y1="224.4" x2="447.32" y2="224.4" stroke="#000" stroke-width="1.4"/>
<rect x="450.1" y="233.7" width="4" height="62.8" fill="#fa0000" stroke="#000" stroke-width="0.55"/>
<rect x="450.1" y="204.4" width="4" height="21.2" fill="#fa0000" stroke="#000" stroke-width="0.9"/>
<line x1="450.6" y1="204.1" x2="453.6" y2="204.1" stroke="#000" stroke-width="1.4"/>
<rect x="456.38" y="233.7" width="4" height="62.8" fill="#fa0000" stroke="#000" stroke-width="0.55"/>
<rect x="456.38" y="193.3" width="4" height="32.3" fill="#fa0000" stroke="#000" stroke-width="0.9"/>
<line x1="458.5" y1="189.2" x2="458.5" y2="193.3" stroke="#000" stroke-width="1"/>
<line x1="456.9" y1="189.2" x2="460.1" y2="189.2" stroke="#000" stroke-width="1.2"/>
<rect x="462.66" y="233.7" width="4" height="62.8" fill="#fa0000" stroke="#000" stroke-width="0.55"/>
<rect x="462.66" y="212.2" width="4" height="13.4" fill="#fa0000" stroke="#000" stroke-width="0.9"/>
<line x1="463.16" y1="211.9" x2="466.16" y2="211.9" stroke="#000" stroke-width="1.4"/>
<rect x="468.94" y="233.7" width="4" height="62.8" fill="#fa0000" stroke="#000" stroke-width="0.55"/>
<rect x="468.94" y="221.7" width="4" height="3.9" fill="#fa0000" stroke="#000" stroke-width="0.9"/>
<line x1="469.44" y1="221.4" x2="472.44" y2="221.4" stroke="#000" stroke-width="1.4"/>
<rect x="475.22" y="233.7" width="4" height="62.8" fill="#fa0000" stroke="#000" stroke-width="0.55"/>
<rect x="475.22" y="218.4" width="4" height="7.2" fill="#fa0000" stroke="#000" stroke-width="0.9"/>
<line x1="475.72" y1="218.1" x2="478.72" y2="218.1" stroke="#000" stroke-width="1.4"/>
<rect x="481.5" y="233.7" width="4" height="62.8" fill="#fa0000" stroke="#000" stroke-width="0.55"/>
<rect x="481.5" y="207.3" width="4" height="18.3" fill="#fa0000" stroke="#000" stroke-width="0.9"/>
<line x1="483.5" y1="203.7" x2="483.5" y2="207.3" stroke="#000" stroke-width="1"/>
<line x1="481.9" y1="203.7" x2="485.1" y2="203.7" stroke="#000" stroke-width="1.2"/>
<rect x="487.78" y="233.7" width="4" height="62.8" fill="#fa0000" stroke="#000" stroke-width="0.55"/>
<rect x="487.78" y="187" width="4" height="38.6" fill="#fa0000" stroke="#000" stroke-width="0.9"/>
<line x1="488.28" y1="186.7" x2="491.28" y2="186.7" stroke="#000" stroke-width="1.4"/>
<rect x="494.06" y="233.7" width="4" height="62.8" fill="#fa0000" stroke="#000" stroke-width="0.55"/>
<rect x="494.06" y="223.8" width="4" height="1.8" fill="#fa0000" stroke="#000" stroke-width="0.9"/>
<line x1="494.56" y1="223.5" x2="497.56" y2="223.5" stroke="#000" stroke-width="1.4"/>
<rect x="500.34" y="233.7" width="4" height="62.8" fill="#fa0000" stroke="#000" stroke-width="0.55"/>
<rect x="500.34" y="209.1" width="4" height="16.5" fill="#fa0000" stroke="#000" stroke-width="0.9"/>
<line x1="502.5" y1="205.5" x2="502.5" y2="209.1" stroke="#000" stroke-width="1"/>
<line x1="500.9" y1="205.5" x2="504.1" y2="205.5" stroke="#000" stroke-width="1.2"/>
<line x1="292.5" y1="184" x2="292.5" y2="226" stroke="#333" stroke-width="1"/>
<line x1="292.5" y1="226" x2="294.5" y2="226" stroke="#333" stroke-width="1"/>
<line x1="292.5" y1="233.7" x2="292.5" y2="296.5" stroke="#333" stroke-width="1"/>
<line x1="292.5" y1="233.7" x2="294.5" y2="233.7" stroke="#333" stroke-width="1"/>
<line x1="292.5" y1="296.5" x2="506" y2="296.5" stroke="#111" stroke-width="1"/>
<line x1="295.5" y1="296.5" x2="295.5" y2="299.5" stroke="#333" stroke-width="0.9"/>
<line x1="301.5" y1="296.5" x2="301.5" y2="299.5" stroke="#333" stroke-width="0.9"/>
<line x1="307.5" y1="296.5" x2="307.5" y2="299.5" stroke="#333" stroke-width="0.9"/>
<line x1="313.5" y1="296.5" x2="313.5" y2="299.5" stroke="#333" stroke-width="0.9"/>
<line x1="320.5" y1="296.5" x2="320.5" y2="299.5" stroke="#333" stroke-width="0.9"/>
<line x1="326.5" y1="296.5" x2="326.5" y2="299.5" stroke="#333" stroke-width="0.9"/>
<line x1="332.5" y1="296.5" x2="332.5" y2="299.5" stroke="#333" stroke-width="0.9"/>
<line x1="339.5" y1="296.5" x2="339.5" y2="299.5" stroke="#333" stroke-width="0.9"/>
<line x1="345.5" y1="296.5" x2="345.5" y2="299.5" stroke="#333" stroke-width="0.9"/>
<line x1="351.5" y1="296.5" x2="351.5" y2="299.5" stroke="#333" stroke-width="0.9"/>
<line x1="357.5" y1="296.5" x2="357.5" y2="299.5" stroke="#333" stroke-width="0.9"/>
<line x1="364.5" y1="296.5" x2="364.5" y2="299.5" stroke="#333" stroke-width="0.9"/>
<line x1="370.5" y1="296.5" x2="370.5" y2="299.5" stroke="#333" stroke-width="0.9"/>
<line x1="376.5" y1="296.5" x2="376.5" y2="299.5" stroke="#333" stroke-width="0.9"/>
<line x1="383.5" y1="296.5" x2="383.5" y2="299.5" stroke="#333" stroke-width="0.9"/>
<line x1="389.5" y1="296.5" x2="389.5" y2="299.5" stroke="#333" stroke-width="0.9"/>
<line x1="395.5" y1="296.5" x2="395.5" y2="299.5" stroke="#333" stroke-width="0.9"/>
<line x1="401.5" y1="296.5" x2="401.5" y2="299.5" stroke="#333" stroke-width="0.9"/>
<line x1="408.5" y1="296.5" x2="408.5" y2="299.5" stroke="#333" stroke-width="0.9"/>
<line x1="414.5" y1="296.5" x2="414.5" y2="299.5" stroke="#333" stroke-width="0.9"/>
<line x1="420.5" y1="296.5" x2="420.5" y2="299.5" stroke="#333" stroke-width="0.9"/>
<line x1="426.5" y1="296.5" x2="426.5" y2="299.5" stroke="#333" stroke-width="0.9"/>
<line x1="433.5" y1="296.5" x2="433.5" y2="299.5" stroke="#333" stroke-width="0.9"/>
<line x1="439.5" y1="296.5" x2="439.5" y2="299.5" stroke="#333" stroke-width="0.9"/>
<line x1="445.5" y1="296.5" x2="445.5" y2="299.5" stroke="#333" stroke-width="0.9"/>
<line x1="452.5" y1="296.5" x2="452.5" y2="299.5" stroke="#333" stroke-width="0.9"/>
<line x1="458.5" y1="296.5" x2="458.5" y2="299.5" stroke="#333" stroke-width="0.9"/>
<line x1="464.5" y1="296.5" x2="464.5" y2="299.5" stroke="#333" stroke-width="0.9"/>
<line x1="470.5" y1="296.5" x2="470.5" y2="299.5" stroke="#333" stroke-width="0.9"/>
<line x1="477.5" y1="296.5" x2="477.5" y2="299.5" stroke="#333" stroke-width="0.9"/>
<line x1="483.5" y1="296.5" x2="483.5" y2="299.5" stroke="#333" stroke-width="0.9"/>
<line x1="489.5" y1="296.5" x2="489.5" y2="299.5" stroke="#333" stroke-width="0.9"/>
<line x1="496.5" y1="296.5" x2="496.5" y2="299.5" stroke="#333" stroke-width="0.9"/>
<line x1="502.5" y1="296.5" x2="502.5" y2="299.5" stroke="#333" stroke-width="0.9"/>
<line x1="290" y1="184" x2="292.5" y2="184" stroke="#333" stroke-width="1"/>
<text x="290" y="186.8" font-size="7.8" font-weight="bold" text-anchor="end" fill="#000" stroke="#000" stroke-width="0.15" transform="translate(290,0) scale(0.56,1) translate(-290,0)">600</text>
<line x1="290" y1="198.3" x2="292.5" y2="198.3" stroke="#333" stroke-width="1"/>
<text x="290" y="201.1" font-size="7.8" font-weight="bold" text-anchor="end" fill="#000" stroke="#000" stroke-width="0.15" transform="translate(290,0) scale(0.56,1) translate(-290,0)">400</text>
<line x1="290" y1="212.7" x2="292.5" y2="212.7" stroke="#333" stroke-width="1"/>
<text x="290" y="215.5" font-size="7.8" font-weight="bold" text-anchor="end" fill="#000" stroke="#000" stroke-width="0.15" transform="translate(290,0) scale(0.56,1) translate(-290,0)">200</text>
<line x1="290" y1="233.7" x2="292.5" y2="233.7" stroke="#333" stroke-width="1"/>
<text x="290" y="236.5" font-size="7.8" font-weight="bold" text-anchor="end" fill="#000" stroke="#000" stroke-width="0.15" transform="translate(290,0) scale(0.56,1) translate(-290,0)">8</text>
<line x1="290" y1="250" x2="292.5" y2="250" stroke="#333" stroke-width="1"/>
<text x="290" y="252.8" font-size="7.8" font-weight="bold" text-anchor="end" fill="#000" stroke="#000" stroke-width="0.15" transform="translate(290,0) scale(0.56,1) translate(-290,0)">6</text>
<line x1="290" y1="265.8" x2="292.5" y2="265.8" stroke="#333" stroke-width="1"/>
<text x="290" y="268.6" font-size="7.8" font-weight="bold" text-anchor="end" fill="#000" stroke="#000" stroke-width="0.15" transform="translate(290,0) scale(0.56,1) translate(-290,0)">4</text>
<line x1="290" y1="281.2" x2="292.5" y2="281.2" stroke="#333" stroke-width="1"/>
<text x="290" y="284" font-size="7.8" font-weight="bold" text-anchor="end" fill="#000" stroke="#000" stroke-width="0.15" transform="translate(290,0) scale(0.56,1) translate(-290,0)">2</text>
<text x="382.5" y="171" font-size="10.3" font-weight="normal" text-anchor="start" fill="#000" textLength="16.7" lengthAdjust="spacingAndGlyphs" stroke="#000" stroke-width="0.3">uPAR</text>
<text x="0" y="0" font-size="8.5" font-weight="bold" text-anchor="start" stroke="#000" stroke-width="0.25" textLength="52.7" lengthAdjust="spacingAndGlyphs" transform="translate(276.8,264.8) rotate(-90)">Fold Change</text>
<line x1="169.3" y1="231.5" x2="172.7" y2="231.5" stroke="#222" stroke-width="1.2"/>
<rect x="21.25" y="304.65" width="7.6" height="7.4" fill="#ffffff" stroke="#000" stroke-width="1.5"/>
<text x="34.1" y="311.6" font-size="8.4" font-weight="bold" text-anchor="start" fill="#000" textLength="51.6" lengthAdjust="spacingAndGlyphs" stroke="#000" stroke-width="0.25" word-spacing="-1">MGUS CAFs</text>
<rect x="96.55" y="304.55" width="7.6" height="7.4" fill="#1216d8" stroke="#000" stroke-width="1.5"/>
<text x="105.8" y="311.6" font-size="8.4" font-weight="bold" text-anchor="start" fill="#000" textLength="113" lengthAdjust="spacingAndGlyphs" stroke="#000" stroke-width="0.25" word-spacing="-1">ASYMPTOMATIC MM CAFs</text>
<rect x="229.25" y="304.55" width="7.6" height="7.4" fill="#f6f000" stroke="#000" stroke-width="1.5"/>
<text x="238.8" y="311.6" font-size="8.4" font-weight="bold" text-anchor="start" fill="#000" textLength="93" lengthAdjust="spacingAndGlyphs" stroke="#000" stroke-width="0.25" word-spacing="-1">REMISSION MM CAFs</text>
<rect x="344.65" y="304.55" width="7.6" height="7.4" fill="#fa0000" stroke="#000" stroke-width="1.5"/>
<text x="357" y="311.6" font-size="8.4" font-weight="bold" text-anchor="start" fill="#000" textLength="145.9" lengthAdjust="spacingAndGlyphs" stroke="#000" stroke-width="0.25" word-spacing="-1">RELAPSE/REFRACTORY MM CAFs</text>
<text x="17.6" y="334.3" font-size="11.2" font-weight="normal" stroke="#000" stroke-width="0.4" textLength="437.4" lengthAdjust="spacingAndGlyphs"><tspan font-weight="bold">Fig. 2</tspan> Quantitative PCR of uPA, uPAR, MMP-2, &#945;-SMA&#160; in MGUS, asymptomatic MM,</text>
<text x="17.6" y="347.8" font-size="11.2" font-weight="normal" stroke="#000" stroke-width="0.4" textLength="436.2" lengthAdjust="spacingAndGlyphs">remission and relapsed/refractory MM CAFs. Data shown were obtained in 3 different</text>
<text x="17.6" y="361.4" font-size="11.2" font-weight="normal" stroke="#000" stroke-width="0.4" textLength="477.6" lengthAdjust="spacingAndGlyphs">experiments performed in double, and are expressed as average value &#177; SD p &lt;0.05 (Student</text>
<text x="17.6" y="375.1" font-size="11.2" font-weight="normal" stroke="#000" stroke-width="0.4" textLength="32.2" lengthAdjust="spacingAndGlyphs">t-test).</text>
</svg>
</body></html>
